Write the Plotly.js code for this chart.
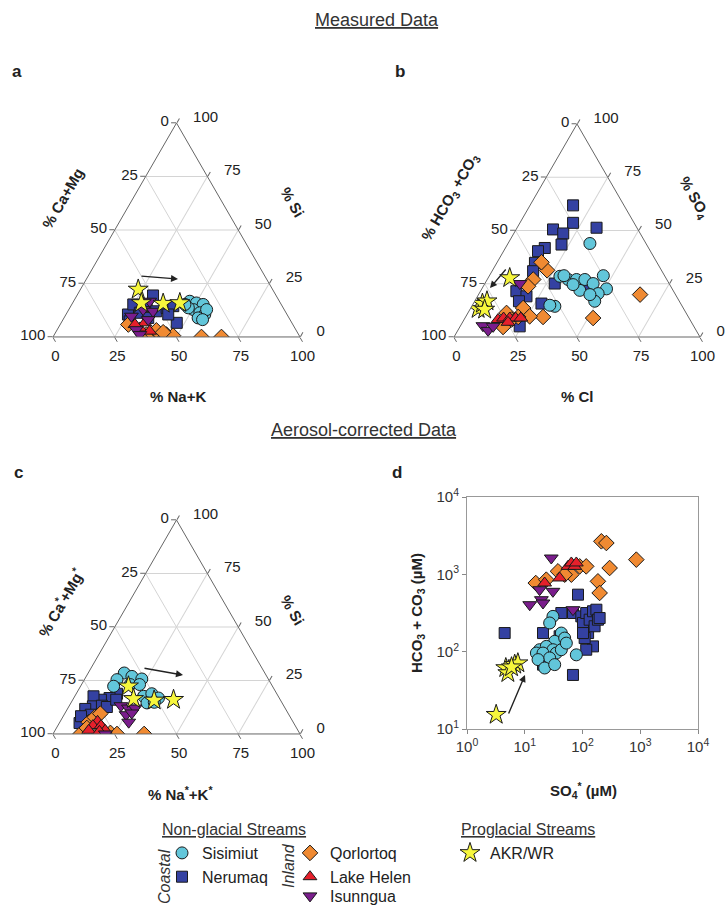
<!DOCTYPE html>
<html>
<head>
<meta charset="utf-8">
<script src="https://cdn.plot.ly/plotly-3.0.1.min.js"></script>
<style>html,body{margin:0;padding:0;background:#fff;}#chart{width:725px;height:905px;}</style>
</head>
<body>
<div id="chart"></div>
<script>
// ---------- Panel a: measured, cations (a = % Si, c = % Na+K; b = % Ca+Mg is the remainder) ----------
const aSisSi = [16.7,15.9,15.2,12.8,11.3,10.5,13.6,8.9,12.8,8.1,15.2];
const aSisNa = [47.0,50.1,53.2,50.4,53.8,56.2,48.0,54.3,55.8,56.5,45.8];
const aNerSi = [19.4,10.5,15.2,11.3,14.4,12.0,13.6,14.4,6.6,10.5,7.3,8.9];
const aNerNa = [30.8,25.1,24.9,29.5,30.7,35.8,39.2,41.5,46.8,41.4,27.4,34.1];
const aQorSi = [5.8,1.1,1.1,1.1,1.1,0.6,0,0,3.1,2.2];
const aQorNa = [27.6,37.3,40.0,42.7,45.4,48.3,60.1,68.2,40.3,43.5];
const aLakSi = [4.2,6.6,2.7,5.8];
const aLakNa = [33.0,33.9,37.8,30.3];
const aIsuSi = [16.7,12.8,12.0,8.1,3.4,9.7,1.1];
const aIsuNa = [30.8,30.1,34.5,34.5,32.0,26.9,34.6];
const aAkrSi = [22.2,15.9,15.6,15.9];
const aAkrNa = [23.4,27.8,36.8,43.4];

// ---------- Panel b: measured, anions (a = % SO4, c = % Cl; b = % HCO3+CO3) ----------
const bSisSo4 = [43.9,28.5,27.0,27.0,27.0,28.8,22.6,25.1,20.4,16.8,21.9,24.6,14.4,14.9,28.8,19.9];
const bSisCl  = [33.3,28.8,32.9,36.3,39.7,46.3,50.7,44.0,48.4,48.8,40.2,36.1,33.8,31.5,30.3,45.3];
const bNerSo4 = [61.8,53.6,51.3,50.5,48.6,43.4,41.8,40.3,34.8,30.9,21.5,19.1,16.8,25.1,15.7,22.6,5.0,11.3];
const bNerCl  = [17.5,21.6,32.3,15.0,20.1,22.0,16.0,14.0,15.5,16.7,14.6,19.9,18.0,28.4,27.7,42.6,24.2,22.4];
const bQorSo4 = [31.3,35.1,27.0,23.8,13.6,11.3,8.2,4.7,9.4,8.9,19.9,9.7,9.4];
const bQorCl  = [22.2,18.0,18.7,18.2,21.3,15.7,19.3,17.6,31.5,52.1,65.7,25.9,21.4];
const bLakSo4 = [8.2,8.9,8.9,8.9,8.9,6.9];
const bLakCl  = [13.8,15.7,18.2,20.6,22.7,18.5];
const bIsuSo4 = [25.1,5.3,3.1,5.0];
const bIsuCl  = [14.2,9.1,12.3,13.4];
const bAkrSo4 = [27.7,13.2,15.7,16.8,12.9];
const bAkrCl  = [8.8,3.2,3.7,5.0,6.0];

// ---------- Panel c: aerosol-corrected cations (a = % Si, c = % Na*+K*) ----------
const cSisSi = [28.5,26.9,25.7,25.4,22.3,23.1,23.1,17.6,18.8,14.5,16.8,14.8];
const cSisNa = [14.6,18.5,23.1,13.2,13.4,19.7,23.5,27.9,30.6,30.8,34.3,33.6];
const cNerSi = [18.8,16.8,16.0,17.6,12.9,11.7,9.0,5.1,13.2,12.6,8.3,16.0];
const cNerNa = [16.5,14.5,11.4,7.6,9.7,7.2,10.8,8.2,13.2,15.5,7.2,17.6];
const cQorSi = [0,0,5.5,7.8,9.5,2.8,0.5,0,0.2];
const cQorNa = [11.1,36.9,11.7,13.0,14.4,12.3,23.0,25.9,18.4];
const cLakSi = [5.9,3.9,3.9,1.7,1.7,1.2];
const cLakNa = [15.1,14.2,17.5,20.3,13.6,18.2];
const cIsuSi = [13.2,12.1,12.1,9.0,9.8,5.5,0];
const cIsuNa = [20.9,24.5,27.2,25.1,27.0,27.9,21.2];
const cAkrSi = [22.3,16.4,15.7,16.0];
const cAkrNa = [19.4,24.4,33.1,40.8];

// ---------- Panel d: SO4* vs HCO3+CO3 (µM) ----------
const dSisX = [30.8,27.0,43.0,33.0,49.1,18.1,23.6,30.8,15.9,20.7,35.2,43.0,27.0,17.0,22.1,33.0,78.2,52.5];
const dSisY = [286,235,174,136,150,106,117,106,96,96,96,106,83,79,61.5,68,91,129];
const dNerX = [4.49,20.7,20.7,40.2,43.0,68.4,83.6,95.4,102,116,125,133,152,162,174,185,198,152,116,68.4,109,102];
const dNerY = [174,174,68,158,316,316,546,286,235,316,174,259,333,213,349,259,272,117,106,50,150,174];
const dQorX = [15.5,23.6,37.6,64.1,89.3,116,212,259,295,185,198,855,49.1];
const dQorY = [772,853,1094,990,1268,1268,2673,2541,1208,812,574,1549,990];
const dLakX = [22.1,40.2,56.1,64.1,73.2,78.2];
const dLakY = [772,897,1268,1403,1268,1403];
const dIsuX = [28.8,12.2,19.4,18.1,20.7,30.8,68.4];
const dIsuY = [1626,405,470,633,426,603,349];
const dAkrX = [3.2,4.7,5.1,6.7,7.6,5.9];
const dAkrY = [15.3,61.5,53,68,71,63];

const names = ['Sisimiut','Nerumaq','Qorlortoq','Lake Helen','Isunngua','AKR/WR'];
const tickVals = [0,25,50,75,100];
const tickText = ['100','75','50','25','0'];
const decadeX = [1,10,100,1000,10000];
const decadeY = [10,100,1000,10000];
const decadeXText = ['10<sup>0</sup>','10<sup>1</sup>','10<sup>2</sup>','10<sup>3</sup>','10<sup>4</sup>'];
const decadeYText = ['10<sup>1</sup>','10<sup>2</sup>','10<sup>3</sup>','10<sup>4</sup>'];

// ---------- styles ----------
const FONT = 'Liberation Sans, Arial, sans-serif';
const W = 725, H = 905;
const st = {
  'Sisimiut':   {symbol:'circle',        color:'#62C6DA', size:12, rank:1, legend:'legend'},
  'Nerumaq':    {symbol:'square',        color:'#3441A2', size:11, rank:2, legend:'legend'},
  'Qorlortoq':  {symbol:'diamond',       color:'#F08A32', size:12, rank:3, legend:'legend2'},
  'Lake Helen': {symbol:'triangle-up',   color:'#E5202B', size:12, rank:4, legend:'legend2'},
  'Isunngua':   {symbol:'triangle-down', color:'#7A1D8C', size:12, rank:5, legend:'legend4'},
  'AKR/WR':     {symbol:'star',          color:'#F6F63C', size:15, rank:6, legend:'legend3'}
};
function mk(name){ const s = st[name]; return {symbol:s.symbol, color:s.color, size:s.size, line:{color:'#1a1a1a', width:1}}; }

const drawOrder = ['Nerumaq','Sisimiut','Qorlortoq','Lake Helen','Isunngua','AKR/WR'];
const ternData = {
  ternary: {'Sisimiut':[aSisSi,aSisNa],'Nerumaq':[aNerSi,aNerNa],'Qorlortoq':[aQorSi,aQorNa],'Lake Helen':[aLakSi,aLakNa],'Isunngua':[aIsuSi,aIsuNa],'AKR/WR':[aAkrSi,aAkrNa]},
  ternary2:{'Sisimiut':[bSisSo4,bSisCl],'Nerumaq':[bNerSo4,bNerCl],'Qorlortoq':[bQorSo4,bQorCl],'Lake Helen':[bLakSo4,bLakCl],'Isunngua':[bIsuSo4,bIsuCl],'AKR/WR':[bAkrSo4,bAkrCl]},
  ternary3:{'Sisimiut':[cSisSi,cSisNa],'Nerumaq':[cNerSi,cNerNa],'Qorlortoq':[cQorSi,cQorNa],'Lake Helen':[cLakSi,cLakNa],'Isunngua':[cIsuSi,cIsuNa],'AKR/WR':[cAkrSi,cAkrNa]}
};
const logData = {'Sisimiut':[dSisX,dSisY],'Nerumaq':[dNerX,dNerY],'Qorlortoq':[dQorX,dQorY],'Lake Helen':[dLakX,dLakY],'Isunngua':[dIsuX,dIsuY],'AKR/WR':[dAkrX,dAkrY]};

const traces = [];
Object.keys(ternData).forEach(function(sub){
  drawOrder.forEach(function(n){
    const d = ternData[sub][n];
    traces.push({type:'scatterternary', mode:'markers', name:n, subplot:sub, a:d[0], c:d[1],
      marker:mk(n), showlegend: sub==='ternary', legend: st[n].legend, legendrank: st[n].rank, hoverinfo:'skip'});
  });
});
drawOrder.forEach(function(n){
  const d = logData[n];
  traces.push({type:'scatter', mode:'markers', name:n, x:d[0], y:d[1], xaxis:'x', yaxis:'y',
    marker:mk(n), showlegend:false, hoverinfo:'skip'});
});

function px(x){ return x / W; }
function py(y){ return 1 - y / H; }

// right-edge labels sit a little further from the edge in the reference
const rightPad = '\u2007\u2009';
function ternAxis(pad){
  return {tickmode:'array', tickvals:tickVals, ticktext:tickText.map(function(t){ return (pad||'') + t; }),
    ticks:'outside', ticklen:5,
    tickcolor:'#666', tickwidth:1, showline:true, linecolor:'#666', linewidth:1,
    showgrid:true, gridcolor:'#d4d4d4', gridwidth:1, tickfont:{family:FONT, size:15, color:'#222'},
    title:{text:''}, min:0};
}
function tern(x0,x1,y0,y1){
  return {domain:{x:[px(x0),px(x1)], y:[py(y1),py(y0)]}, sum:100, bgcolor:'rgba(0,0,0,0)',
    aaxis:ternAxis(), baxis:ternAxis(), caxis:ternAxis(rightPad)};
}

function ann(x,y,text,opts){
  return Object.assign({xref:'paper', yref:'paper', x:px(x), y:py(y), text:text, showarrow:false,
    xanchor:'center', yanchor:'middle', font:{family:FONT, size:15, color:'#222'}}, opts||{});
}
function arrow(x0,y0,x1,y1){
  return {xref:'paper', yref:'paper', x:px(x1), y:py(y1), ax:x0-x1, ay:y0-y1, axref:'pixel', ayref:'pixel',
    text:'', showarrow:true, arrowhead:2, arrowsize:1, arrowwidth:1.4, arrowcolor:'#222'};
}

const annotations = [
  ann(377,20,'<u>Measured Data</u>',{font:{family:FONT,size:18,color:'#333'}}),
  ann(364,430,'<u>Aerosol-corrected Data</u>',{font:{family:FONT,size:18,color:'#333'}}),
  ann(17,72,'<b>a</b>',{font:{family:FONT,size:17,color:'#222'}}),
  ann(400,72,'<b>b</b>',{font:{family:FONT,size:17,color:'#222'}}),
  ann(18,473,'<b>c</b>',{font:{family:FONT,size:17,color:'#222'}}),
  ann(397,473,'<b>d</b>',{font:{family:FONT,size:17,color:'#222'}}),
  // panel a titles
  ann(63,199,'<b>% Ca+Mg</b>',{textangle:-60}),
  ann(293,202,'<b>% Si</b>',{textangle:60}),
  ann(178,396,'<b>% Na+K</b>'),
  // panel b titles
  ann(450,197,'<b>% HCO<sub>3</sub> +CO<sub>3</sub></b>',{textangle:-60}),
  ann(694,197,'<b>% SO<sub>4</sub></b>',{textangle:60}),
  ann(577,396,'<b>% Cl</b>'),
  // panel c titles
  ann(60,602,'<b>% Ca<sup>*</sup>+Mg<sup>*</sup></b>',{textangle:-60}),
  ann(293,610,'<b>% Si</b>',{textangle:60}),
  ann(180,793,'<b>% Na<sup>*</sup>+K<sup>*</sup></b>'),
  // panel d titles
  ann(417,613,'<b>HCO<sub>3</sub> + CO<sub>3</sub> (µM)</b>',{textangle:-90}),
  ann(583,790,'<b>SO<sub>4</sub><sup>*</sup> (µM)</b>'),
  // arrows
  arrow(140,276,178,279),
  arrow(507,268,490,288),
  arrow(143,668,183,675),
  arrow(508,715,525,675),
  // legend headers
  ann(234,829,'<u>Non-glacial Streams</u>',{font:{family:FONT,size:16,color:'#333'}}),
  ann(528,829,'<u>Proglacial Streams</u>',{font:{family:FONT,size:16,color:'#333'}}),
  ann(164,877,'<i>Coastal</i>',{textangle:-90,font:{family:FONT,size:16,color:'#333'}}),
  ann(288,866,'<i>Inland</i>',{textangle:-90,font:{family:FONT,size:16,color:'#333'}})
];

function leg(x,y){
  return {x:px(x), y:py(y), xanchor:'left', yanchor:'top', bgcolor:'rgba(0,0,0,0)', borderwidth:0,
    font:{family:FONT, size:16, color:'#222'}, traceorder:'normal', itemsizing:'trace'};
}

const layout = {
  width:W, height:H, margin:{l:0,r:0,t:0,b:0,autoexpand:false}, paper_bgcolor:'#fff', plot_bgcolor:'#fff',
  font:{family:FONT, color:'#222'}, showlegend:true,
  ternary: tern(53,300,123,337),
  ternary2: tern(454,700,124,337),
  ternary3: tern(53,300,520,734),
  xaxis:{type:'log', domain:[px(467),px(698)], range:[0,4], tickmode:'array', tickvals:decadeX, ticktext:decadeXText,
    ticks:'outside', ticklen:4, tickcolor:'#888', showline:true, mirror:true, linecolor:'#999', linewidth:1,
    showgrid:false, zeroline:false, tickfont:{family:FONT,size:15,color:'#333'}, anchor:'y'},
  yaxis:{type:'log', domain:[py(729),py(497)], range:[1,4], tickmode:'array', tickvals:decadeY, ticktext:decadeYText,
    ticks:'outside', ticklen:4, tickcolor:'#888', showline:true, mirror:true, linecolor:'#999', linewidth:1,
    showgrid:false, zeroline:false, tickfont:{family:FONT,size:15,color:'#333'}, anchor:'x'},
  legend: leg(162,836),
  legend2: leg(290,836),
  legend4: leg(290,879),
  legend3: leg(450,836),
  annotations: annotations
};

Plotly.newPlot('chart', traces, layout, {staticPlot:true, displayModeBar:false});
</script>
</body>
</html>
